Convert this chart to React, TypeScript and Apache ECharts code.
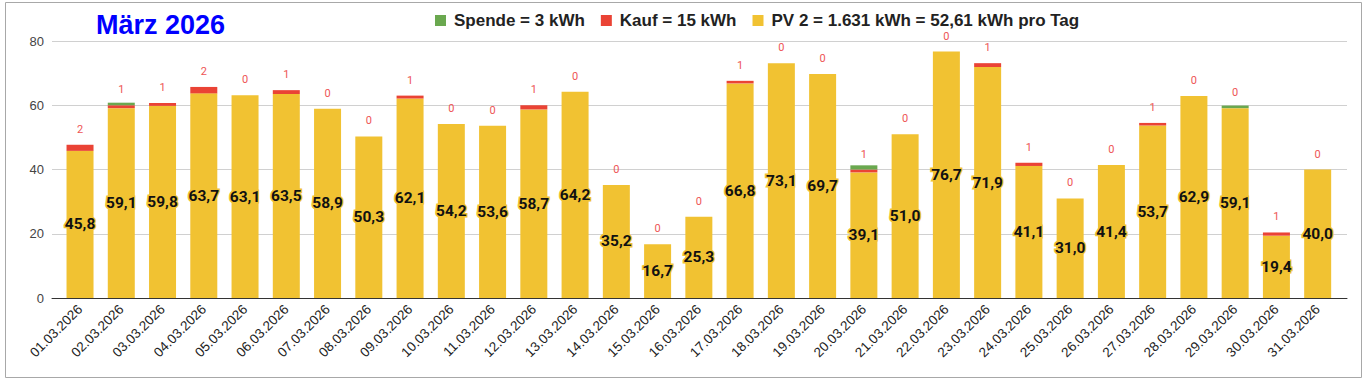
import React, { useEffect, useRef } from "react";
import * as echarts from "echarts";

const days: string[] = [
  "01.03.2026", "02.03.2026", "03.03.2026", "04.03.2026", "05.03.2026", "06.03.2026",
  "07.03.2026", "08.03.2026", "09.03.2026", "10.03.2026", "11.03.2026", "12.03.2026",
  "13.03.2026", "14.03.2026", "15.03.2026", "16.03.2026", "17.03.2026", "18.03.2026",
  "19.03.2026", "20.03.2026", "21.03.2026", "22.03.2026", "23.03.2026", "24.03.2026",
  "25.03.2026", "26.03.2026", "27.03.2026", "28.03.2026", "29.03.2026", "30.03.2026",
  "31.03.2026",
];

const pvValues: number[] = [
  45.8, 59.1, 59.8, 63.7, 63.1, 63.5, 58.9, 50.3, 62.1, 54.2, 53.6, 58.7, 64.2, 35.2,
  16.7, 25.3, 66.8, 73.1, 69.7, 39.1, 51.0, 76.7, 71.9, 41.1, 31.0, 41.4, 53.7, 62.9,
  59.1, 19.4, 40.0,
];

const kaufValues: number[] = [
  1.9, 0.9, 0.9, 2.0, 0, 1.2, 0, 0, 0.9, 0, 0, 1.3, 0, 0, 0, 0, 0.8, 0, 0, 0.9, 0, 0,
  1.2, 1.0, 0, 0, 0.8, 0, 0, 1.0, 0,
];

const spendeValues: number[] = [
  0, 0.8, 0, 0, 0, 0, 0, 0, 0, 0, 0, 0, 0, 0, 0, 0, 0, 0, 0, 1.3, 0, 0, 0, 0, 0, 0, 0,
  0, 0.8, 0, 0,
];

const yTicks = { min: 0, max: 80, interval: 20 };

const titleText = "März 2026";
const nameSpende = "Spende = 3 kWh";
const nameKauf = "Kauf = 15 kWh";
const namePV = "PV 2 = 1.631 kWh = 52,61 kWh pro Tag";

const YELLOW = "#f1c232";
const RED = "#ea4335";
const GREEN = "#6aa84f";
const ARIAL = "'Liberation Sans', Arial, sans-serif";

export default function App() {
  const ref = useRef<HTMLDivElement>(null);

  useEffect(() => {
    if (!ref.current) return;
    const chart = echarts.init(ref.current, undefined, { renderer: "svg" });
    chart.setOption({
      animation: false,
      backgroundColor: "#ffffff",
      title: {
        text: titleText,
        left: 96,
        top: 11,
        padding: 0,
        textStyle: { color: "#0000ff", fontSize: 27, fontWeight: "bold", fontFamily: ARIAL },
      },
      legend: {
        data: [nameSpende, nameKauf, namePV],
        left: 435,
        top: 12,
        padding: 0,
        icon: "rect",
        itemWidth: 11,
        itemHeight: 11,
        itemGap: 16,
        selectedMode: false,
        textStyle: {
          color: "#222",
          fontSize: 17,
          fontWeight: "bold",
          fontFamily: ARIAL,
          padding: [0, 0, 0, 3],
        },
      },
      graphic: [
        {
          type: "rect",
          shape: { x: 5.5, y: 2.5, width: 1356, height: 375 },
          style: { fill: "none", stroke: "#a8a8a8", lineWidth: 1 },
          silent: true,
        },
      ],
      grid: [
        { left: 52, right: 21, top: 41, bottom: 82 },
        { left: 59.4, right: 29.7, top: 41, bottom: 82 },
      ],
      xAxis: [
        {
          type: "category",
          gridIndex: 0,
          data: [""],
          axisLine: { show: true, lineStyle: { color: "#333", width: 1 } },
          axisTick: { show: false },
          axisLabel: { show: false },
          splitLine: { show: false },
          z: 5,
        },
        {
          type: "category",
          gridIndex: 1,
          data: days,
          axisLine: { show: false },
          axisTick: { show: false },
          axisLabel: {
            rotate: 45,
            interval: 0,
            margin: 9,
            color: "#222",
            fontSize: 13.5,
            fontFamily: ARIAL,
          },
        },
      ],
      yAxis: [
        {
          type: "value",
          gridIndex: 0,
          min: yTicks.min,
          max: yTicks.max,
          interval: yTicks.interval,
          axisLine: { show: false },
          axisTick: { show: false },
          axisLabel: { color: "#444", fontSize: 13, margin: 8, fontFamily: ARIAL },
          splitLine: { show: true, lineStyle: { color: "#d0d0d0", width: 1 } },
        },
        {
          type: "value",
          gridIndex: 1,
          min: yTicks.min,
          max: yTicks.max,
          interval: yTicks.interval,
          show: false,
          splitLine: { show: false },
        },
      ],
      series: [
        {
          name: namePV,
          type: "bar",
          stack: "total",
          xAxisIndex: 1,
          yAxisIndex: 1,
          barWidth: 27,
          data: pvValues,
          itemStyle: { color: YELLOW },
          label: {
            show: true,
            position: "inside",
            formatter: (p: any) => Number(p.value).toFixed(1).replace(".", ","),
            color: "#111",
            fontSize: 15.5,
            fontWeight: "bold",
            fontFamily: "Roboto, sans-serif",
            textBorderColor: YELLOW,
            textBorderWidth: 3,
          },
        },
        {
          name: nameKauf,
          type: "bar",
          stack: "total",
          xAxisIndex: 1,
          yAxisIndex: 1,
          barWidth: 27,
          data: kaufValues,
          itemStyle: { color: RED },
          label: {
            show: true,
            position: "top",
            distance: 10,
            formatter: (p: any) => String(Math.round(Number(p.value))),
            color: "#ee5555",
            fontSize: 11,
            fontFamily: "Roboto, sans-serif",
          },
        },
        {
          name: nameSpende,
          type: "bar",
          stack: "total",
          xAxisIndex: 1,
          yAxisIndex: 1,
          barWidth: 27,
          data: spendeValues,
          itemStyle: { color: GREEN },
        },
      ],
    });
    return () => chart.dispose();
  }, []);

  return (
    <div
      ref={ref}
      style={{ position: "absolute", left: 0, top: 0, width: 1368, height: 380, background: "#fff" }}
    />
  );
}
